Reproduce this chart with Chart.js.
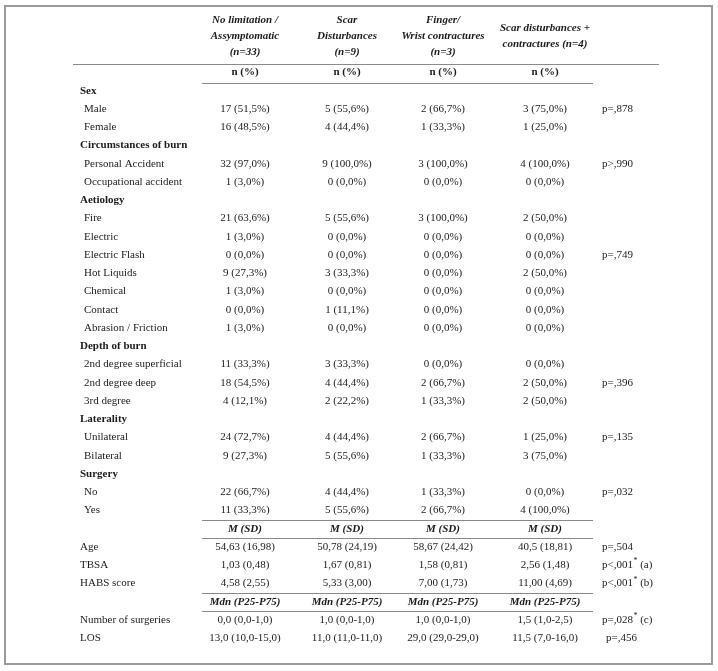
<!DOCTYPE html>
<html><head><meta charset="utf-8">
<script src="https://cdn.jsdelivr.net/npm/chart.js@4.4.1/dist/chart.umd.min.js"></script>
<style>html,body{margin:0;padding:0;background:#fff}canvas{display:block}</style>
</head><body>
<canvas id="c" width="718" height="671"></canvas>
<script>
// ---------- DATA ----------
const groupHeaders = [
  ["No limitation /", "Assymptomatic", "(n=33)"],
  ["Scar", "Disturbances", "(n=9)"],
  ["Finger/", "Wrist contractures", "(n=3)"],
  ["Scar disturbances +", "contractures (n=4)"]
];
const countHeader = "n (%)";
const meanHeader = "M (SD)";
const medianHeader = "Mdn (P25-P75)";

// categorical rows (null value = section title)
const rowLabels = ["Sex","Male","Female","Circumstances of burn","Personal Accident","Occupational accident",
  "Aetiology","Fire","Electric","Electric Flash","Hot Liquids","Chemical","Contact","Abrasion / Friction",
  "Depth of burn","2nd degree superficial","2nd degree deep","3rd degree",
  "Laterality","Unilateral","Bilateral","Surgery","No","Yes"];
const noLimitationN   = [null,17,16,null,32,1,null,21,1,0,9,1,0,1,null,11,18,4,null,24,9,null,22,11];
const noLimitationPct = [null,51.5,48.5,null,97.0,3.0,null,63.6,3.0,0.0,27.3,3.0,0.0,3.0,null,33.3,54.5,12.1,null,72.7,27.3,null,66.7,33.3];
const scarN   = [null,5,4,null,9,0,null,5,0,0,3,0,1,0,null,3,4,2,null,4,5,null,4,5];
const scarPct = [null,55.6,44.4,null,100.0,0.0,null,55.6,0.0,0.0,33.3,0.0,11.1,0.0,null,33.3,44.4,22.2,null,44.4,55.6,null,44.4,55.6];
const fingerN   = [null,2,1,null,3,0,null,3,0,0,0,0,0,0,null,0,2,1,null,2,1,null,1,2];
const fingerPct = [null,66.7,33.3,null,100.0,0.0,null,100.0,0.0,0.0,0.0,0.0,0.0,0.0,null,0.0,66.7,33.3,null,66.7,33.3,null,33.3,66.7];
const bothN   = [null,3,1,null,4,0,null,2,0,0,2,0,0,0,null,0,2,2,null,1,3,null,0,4];
const bothPct = [null,75.0,25.0,null,100.0,0.0,null,50.0,0.0,0.0,50.0,0.0,0.0,0.0,null,0.0,50.0,50.0,null,25.0,75.0,null,0.0,100.0];
const catPValues = [null,"p=,878",null,null,"p>,990",null,null,null,null,"p=,749",null,null,null,null,null,null,"p=,396",null,null,"p=,135",null,null,"p=,032",null];

// continuous rows: mean (SD)
const meanLabels = ["Age","TBSA","HABS score"];
const meanValues = [[54.63,50.78,58.67,40.5],[1.03,1.67,1.58,2.56],[4.58,5.33,7.00,11.00]];
const meanDecimals = [[2,2,2,1],[2,2,2,2],[2,2,2,2]];
const sdValues = [[16.98,24.19,24.42,18.81],[0.48,0.81,0.81,1.48],[2.55,3.00,1.73,4.69]];
const meanPValues = [["p=,504","",""],["p<,001","*"," (a)"],["p<,001","*"," (b)"]];

// continuous rows: median (P25-P75)
const medianLabels = ["Number of surgeries","LOS"];
const medianValues = [[0.0,1.0,1.0,1.5],[13.0,11.0,29.0,11.5]];
const p25Values = [[0.0,0.0,0.0,1.0],[10.0,11.0,29.0,7.0]];
const p75Values = [[1.0,1.0,1.0,2.5],[15.0,11.0,29.0,16.0]];
const medianPValues = [["p=,028","*"," (c)"],["p=,456","",""]];

// ---------- LAYOUT ----------
const colX = [245, 347, 443, 545];   // group column centres (x-scale units)
const labelX = 80, itemIndent = 4, pX = 602;
const FONT = "'Liberation Serif','Times New Roman',serif";
const fmt = (v, d) => v.toFixed(d).replace('.', ',');

const N_CAT = rowLabels.length;           // rows 0..23
const ROW_MEANHDR = N_CAT;                // 24
const ROW_MEAN0 = N_CAT + 1;              // 25..27
const ROW_MEDHDR = ROW_MEAN0 + meanLabels.length; // 28
const ROW_MED0 = ROW_MEDHDR + 1;          // 29..30

const groupN = [noLimitationN, scarN, fingerN, bothN];
const groupPct = [noLimitationPct, scarPct, fingerPct, bothPct];

// invisible anchor points so the data run through the scales
const anchorPts = [];
rowLabels.forEach((l, r) => groupN.forEach((g, c) => { if (g[r] !== null) anchorPts.push({x: colX[c], y: r}); }));

const tablePlugin = {
  id: 'tablePlugin',
  afterDraw(chart) {
    const ctx = chart.ctx, xs = chart.scales.x, ys = chart.scales.y;
    const X = v => xs.getPixelForValue(v), Y = r => ys.getPixelForValue(r);
    ctx.save();
    // outer frame
    ctx.strokeStyle = '#9a9a9a'; ctx.lineWidth = 2;
    ctx.strokeRect(X(5), 6, X(712) - X(5), 658);
    ctx.fillStyle = '#1c1c1c';
    ctx.textBaseline = 'middle';
    const txt = (s, x, y, align, style) => { ctx.font = style; ctx.textAlign = align; ctx.fillText(s, x, y); };
    const reg = "11px " + FONT, bold = "bold 11px " + FONT, bi = "italic bold 11px " + FONT;

    // group headers
    const yHdr = Y(-1);
    groupHeaders.forEach((lines, c) => {
      const step = 16;
      const start = lines.length === 3 ? yHdr - 52 : yHdr - 44;
      lines.forEach((s, i) => txt(s, X(colX[c]), start + i * step, 'center', bi));
    });
    // lines
    const hline = (x1, x2, y) => { ctx.beginPath(); ctx.moveTo(X(x1), Math.round(y) + 0.5); ctx.lineTo(X(x2), Math.round(y) + 0.5); ctx.stroke(); };
    ctx.strokeStyle = '#8a8a8a'; ctx.lineWidth = 1;
    hline(73, 659, yHdr - 9);
    colX.forEach(x => txt(countHeader, X(x), yHdr, 'center', bold));
    hline(202, 593, yHdr + 10);

    // categorical rows
    rowLabels.forEach((lab, r) => {
      const y = Y(r);
      if (noLimitationN[r] === null) { txt(lab, X(labelX), y, 'left', bold); return; }
      txt(lab, X(labelX + itemIndent), y, 'left', reg);
      groupN.forEach((g, c) => txt(g[r] + " (" + fmt(groupPct[c][r], 1) + "%)", X(colX[c]), y, 'center', reg));
      if (catPValues[r]) txt(catPValues[r], X(pX), y, 'left', reg);
    });

    const pText = (parts, x, y) => {
      ctx.textAlign = 'left'; ctx.font = reg;
      ctx.fillText(parts[0], x, y);
      let w = ctx.measureText(parts[0]).width;
      if (parts[1]) { ctx.font = "8px " + FONT; ctx.fillText(parts[1], x + w + 0.5, y - 4); w += ctx.measureText(parts[1]).width + 0.5; }
      ctx.font = reg; if (parts[2]) ctx.fillText(parts[2], x + w, y);
    };

    // mean block
    const yM = Y(ROW_MEANHDR);
    hline(202, 593, (Y(ROW_MEANHDR - 1) + yM) / 2);
    colX.forEach(x => txt(meanHeader, X(x), yM, 'center', bi));
    hline(202, 593, (yM + Y(ROW_MEAN0)) / 2);
    meanLabels.forEach((lab, i) => {
      const y = Y(ROW_MEAN0 + i);
      txt(lab, X(labelX), y, 'left', reg);
      colX.forEach((x, c) => txt(fmt(meanValues[i][c], meanDecimals[i][c]) + " (" + fmt(sdValues[i][c], 2) + ")", X(x), y, 'center', reg));
      pText(meanPValues[i], X(pX), y);
    });

    // median block
    const yD = Y(ROW_MEDHDR);
    hline(202, 593, (Y(ROW_MEDHDR - 1) + yD) / 2);
    colX.forEach(x => txt(medianHeader, X(x), yD, 'center', bi));
    hline(202, 593, (yD + Y(ROW_MED0)) / 2);
    medianLabels.forEach((lab, i) => {
      const y = Y(ROW_MED0 + i);
      txt(lab, X(labelX), y, 'left', reg);
      colX.forEach((x, c) => txt(fmt(medianValues[i][c], 1) + " (" + fmt(p25Values[i][c], 1) + "-" + fmt(p75Values[i][c], 1) + ")", X(x), y, 'center', reg));
      pText(medianPValues[i], X(pX + (i === 1 ? 4 : 0)), y);
    });
    ctx.restore();
  }
};

new Chart(document.getElementById('c'), {
  type: 'scatter',
  data: { datasets: [{ data: anchorPts, pointRadius: 0, pointHoverRadius: 0, showLine: false }] },
  options: {
    responsive: false, animation: false, devicePixelRatio: 1,
    layout: { padding: 0 },
    plugins: { legend: { display: false }, tooltip: { enabled: false } },
    scales: {
      x: { type: 'linear', min: 0, max: 718, display: false },
      y: { type: 'linear', min: -4.973, max: 31.795, reverse: true, display: false }
    }
  },
  plugins: [tablePlugin]
});
</script>
</body></html>
